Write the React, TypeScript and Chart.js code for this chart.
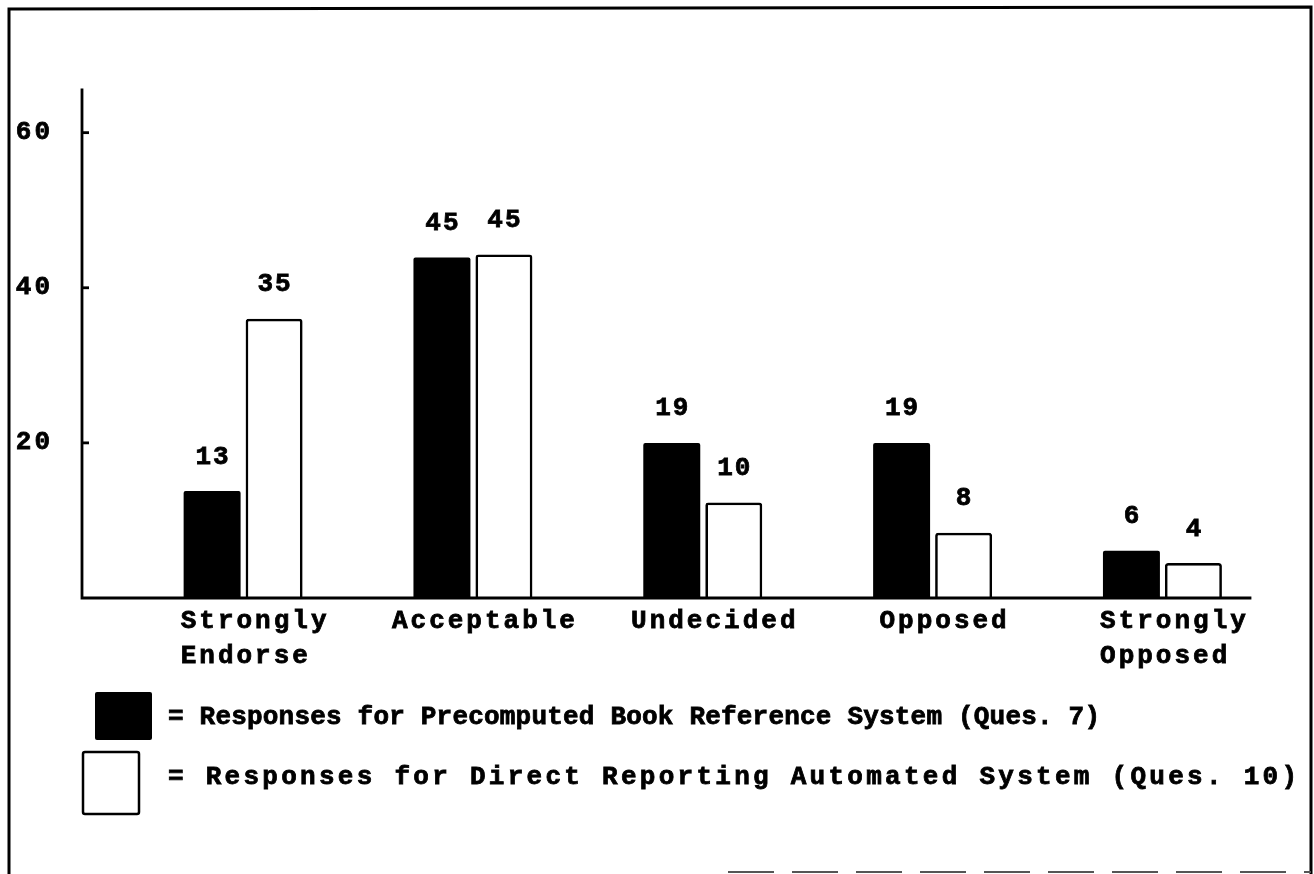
import React, { useEffect, useRef } from 'react';
import { Chart, registerables } from 'chart.js';

Chart.register(...registerables);

// ---- data ----
const categories: string[][] = [
  ['Strongly', 'Endorse '],
  ['Acceptable'],
  ['Undecided'],
  ['Opposed'],
  ['Strongly', 'Opposed '],
];
// bar heights as drawn
const precomputedValues = [13.8, 43.9, 20, 20, 6.1];
const directValues = [36, 44.3, 12.3, 8.4, 4.5];
// printed value labels
const precomputedLabels = ['13', '45', '19', '19', '6'];
const directLabels = ['35', '45', '10', '8', '4'];
const yTickValues = [20, 40, 60];
const legendTexts = [
  '= Responses for Precomputed Book Reference System (Ques. 7)',
  '= Responses for Direct Reporting Automated System (Ques. 10)',
];

const FONT = '"Liberation Mono", "DejaVu Sans Mono", monospace';
const FSIZE = 26;
const W = 1314;
const H = 874;

const decorPlugin = {
  id: 'decor',
  beforeDraw(chart: any) {
    const ctx = chart.ctx;
    ctx.save();
    ctx.fillStyle = '#fff';
    ctx.fillRect(0, 0, chart.width, chart.height);
    ctx.restore();
    ctx.letterSpacing = '3px';
  },
  afterDatasetsDraw(chart: any) {
    const ctx = chart.ctx;
    const ca = chart.chartArea;
    const y = chart.scales.y;
    ctx.save();
    ctx.strokeStyle = '#000';
    ctx.lineWidth = 2.8;
    ctx.lineCap = 'square';
    ctx.beginPath();
    ctx.moveTo(ca.left, ca.top);
    ctx.lineTo(ca.left, ca.bottom);
    ctx.lineTo(ca.right, ca.bottom);
    ctx.stroke();
    ctx.lineCap = 'butt';
    yTickValues.forEach((v) => {
      const py = y.getPixelForValue(v);
      ctx.beginPath();
      ctx.moveTo(ca.left, py);
      ctx.lineTo(ca.left + 7, py);
      ctx.stroke();
    });
    // value labels
    ctx.fillStyle = '#000';
    ctx.strokeStyle = '#000';
    ctx.lineWidth = 0.8;
    ctx.font = `bold ${FSIZE}px ${FONT}`;
    ctx.letterSpacing = '2px';
    ctx.textAlign = 'center';
    ctx.textBaseline = 'middle';
    const labelSets = [precomputedLabels, directLabels];
    labelSets.forEach((labels, di) => {
      const meta = chart.getDatasetMeta(di);
      meta.data.forEach((bar: any, i: number) => {
        ctx.fillText(labels[i], bar.x + 1, bar.y - 34);
        ctx.strokeText(labels[i], bar.x + 1, bar.y - 34);
      });
    });
    ctx.restore();
  },
  afterDraw(chart: any) {
    const ctx = chart.ctx;
    ctx.save();
    ctx.strokeStyle = '#000';
    ctx.lineWidth = 3;
    // frame
    ctx.beginPath();
    ctx.moveTo(9, H);
    ctx.lineTo(9, 9);
    ctx.lineTo(1311, 7);
    ctx.lineTo(1311, H);
    ctx.stroke();
    ctx.strokeStyle = '#555';
    ctx.lineWidth = 2;
    ctx.setLineDash([46, 18]);
    ctx.beginPath();
    ctx.moveTo(728, 872);
    ctx.lineTo(1311, 872);
    ctx.stroke();
    ctx.setLineDash([]);

    // legend swatches
    ctx.fillStyle = '#000';
    ctx.beginPath();
    ctx.roundRect(95, 692, 57, 48, 2);
    ctx.fill();
    ctx.strokeStyle = '#000';
    ctx.lineWidth = 2.5;
    ctx.beginPath();
    ctx.roundRect(83, 752, 56, 62, 2);
    ctx.stroke();

    // legend texts
    ctx.font = `bold ${FSIZE}px ${FONT}`;
    ctx.textAlign = 'left';
    ctx.textBaseline = 'middle';
    ctx.lineWidth = 0.8;
    const rows = [
      { y: 717, end: 1100 },
      { y: 777, end: 1297 },
    ];
    legendTexts.forEach((t, i) => {
      ctx.letterSpacing = '0px';
      const w0 = ctx.measureText(t).width;
      const sp = (rows[i].end - 168 - w0) / (t.length - 1);
      ctx.letterSpacing = `${sp}px`;
      ctx.fillText(t, 168, rows[i].y);
      ctx.strokeText(t, 168, rows[i].y);
    });
    ctx.restore();
  },
};

export default function App() {
  const ref = useRef<HTMLCanvasElement | null>(null);

  useEffect(() => {
    document.body.style.margin = '0';
    const canvas = ref.current;
    if (!canvas) return;
    const tickFont = { family: FONT, size: FSIZE, weight: 'bold' as const, lineHeight: 35 / FSIZE };
    const chart = new Chart(canvas, {
      type: 'bar',
      data: {
        datasets: [
          {
            label: 'Precomputed Book Reference System (Ques. 7)',
            data: precomputedValues.map((v, i) => ({ x: i, y: v })),
            backgroundColor: '#000',
            borderColor: '#000',
            borderWidth: 0,
            borderRadius: 2,
            categoryPercentage: 0.5395,
            barPercentage: 0.919,
          },
          {
            label: 'Direct Reporting Automated System (Ques. 10)',
            data: directValues.map((v, i) => ({ x: i, y: v })),
            backgroundColor: '#fff',
            borderColor: '#000',
            borderWidth: 2.7,
            borderRadius: 3,
            categoryPercentage: 0.5395,
            barPercentage: 0.919,
          },
        ],
      },
      options: {
        responsive: false,
        animation: false,
        devicePixelRatio: 1,
        layout: { padding: { left: 0, top: 90, right: 64, bottom: 0 } },
        plugins: {
          legend: { display: false },
          tooltip: { enabled: false },
        },
        scales: {
          x: {
            type: 'linear',
            offset: false,
            min: -0.701,
            max: 4.381,
            afterBuildTicks: (s: any) => {
              s.ticks = categories.map((_, i) => ({ value: i }));
            },
            afterFit: (s: any) => {
              s.height = H - 598;
            },
            grid: { display: false, drawTicks: false },
            border: { display: false },
            ticks: {
              callback: (v: any) => categories[Math.round(Number(v))],
              color: '#000',
              textStrokeColor: '#000',
              textStrokeWidth: 0.8,
              font: tickFont,
              padding: 6,
              labelOffset: 12,
              maxRotation: 0,
              minRotation: 0,
              autoSkip: false,
            },
          },
          y: {
            type: 'linear',
            min: 0,
            max: 65.5,
            afterBuildTicks: (s: any) => {
              s.ticks = yTickValues.map((v) => ({ value: v }));
            },
            afterFit: (s: any) => {
              s.width = 82;
            },
            grid: { display: false, drawTicks: false },
            border: { display: false },
            ticks: {
              color: '#000',
              textStrokeColor: '#000',
              textStrokeWidth: 0.8,
              font: tickFont,
              padding: 29,
            },
          },
        },
      } as any,
      plugins: [decorPlugin],
    });
    return () => chart.destroy();
  }, []);

  return (
    <canvas
      ref={ref}
      width={W}
      height={H}
      style={{ display: 'block', width: W, height: H }}
    />
  );
}
